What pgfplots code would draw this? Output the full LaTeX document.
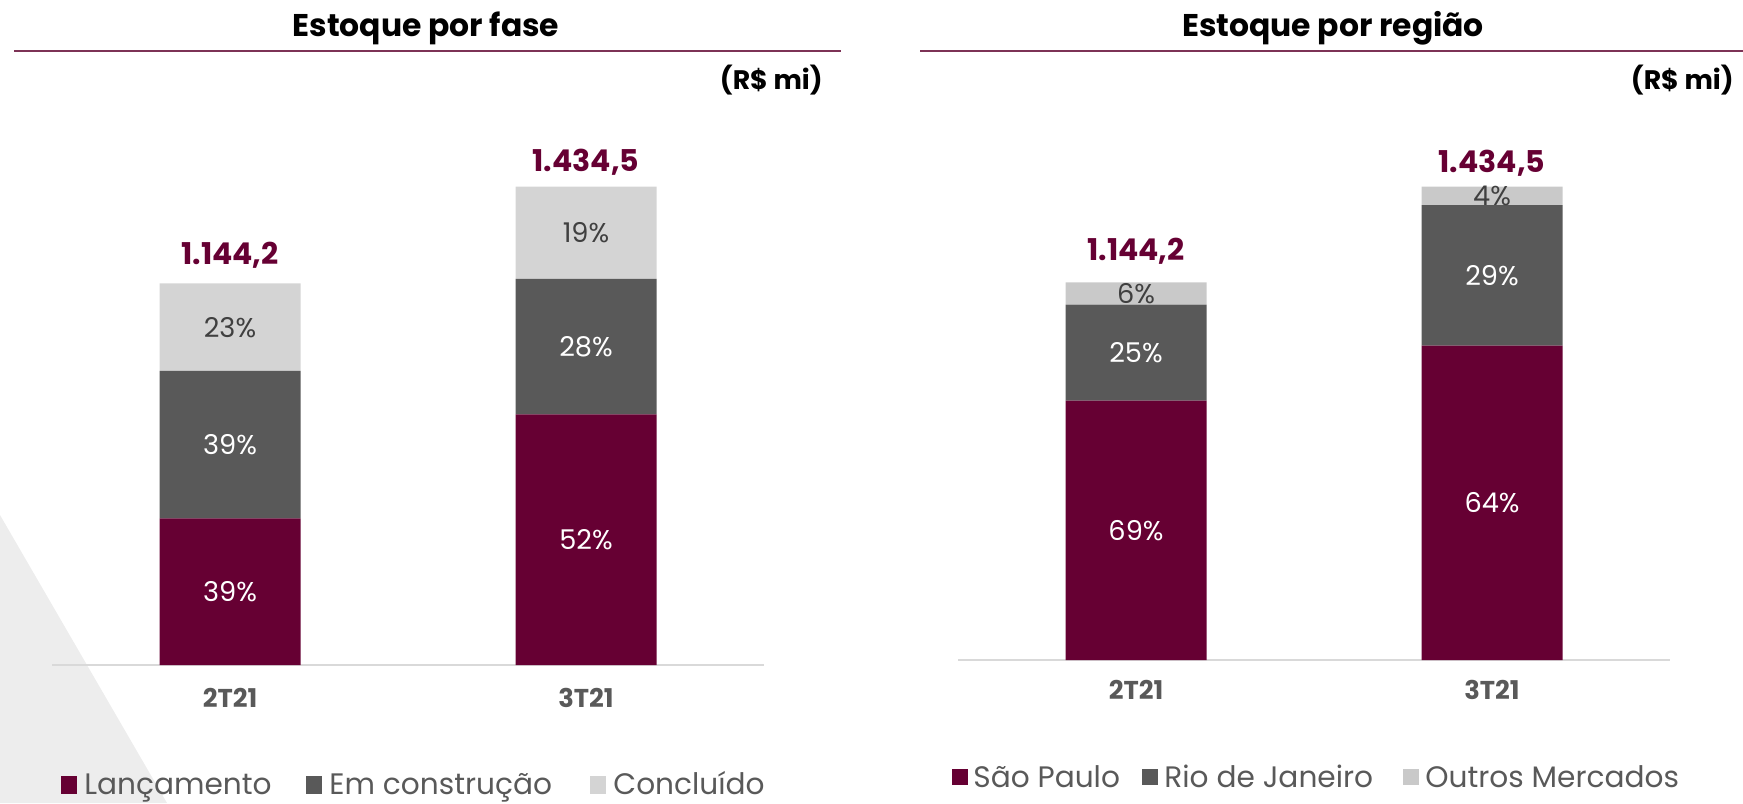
\documentclass[border=0pt]{standalone}
\usepackage{pgfplots}
\pgfplotsset{compat=1.18}
\usepackage{fontspec}
\setmainfont{Poppins}
\definecolor{maroon}{HTML}{660033}
\definecolor{dgray}{HTML}{595959}
\definecolor{lgray}{HTML}{D4D4D4}
\definecolor{lgrayb}{HTML}{C9C9C9}
\definecolor{linec}{HTML}{7D3356}
\definecolor{bgtri}{HTML}{EDEDED}
\definecolor{txtd}{HTML}{404040}
\definecolor{basec}{HTML}{D9D9D9}
\newcommand\fs[1]{\fontsize{#1}{#1}\selectfont}
\pgfplotsset{
  stk/.style={
    scale only axis, ybar stacked, bar width=70.5pt,
    xmin=-0.5, xmax=1.5, ymin=0, ymax=1600,
    axis y line=none, axis x line*=bottom,
    x axis line style={draw=basec, line width=1.2pt},
    xtick={0,1}, xticklabels={2T21,3T21}, major tick length=0pt,
    xtick style={draw=none}, ytick=\empty,
    xticklabel style={anchor=center, font=\bfseries\fs{12.9}, text=dgray},
    clip=false, anchor=south west,
  },
}
\tikzset{
  pct/.style={font=\fs{13.6}},
  tot/.style={font=\bfseries\fs{15}, text=maroon},
  leg/.style={anchor=base west, inner sep=0pt, font=\fs{14.8}, text=dgray},
}
\begin{document}
\begin{tikzpicture}[x=0.5pt,y=0.5pt]
\path[use as bounding box] (0,0) rectangle (1743,803);
\fill[bgtri] (0,288) -- (167,0) -- (0,0) -- cycle;

% titles
\node[anchor=base, font=\bfseries\fs{15.7}] at (426,766) {Estoque por fase};
\node[anchor=base, font=\bfseries\fs{15.7}] at (1333,766) {Estoque por região};
\draw[linec, line width=1pt] (14,752) -- (841,752);
\draw[linec, line width=1pt] (920,752) -- (1743,752);
\node[anchor=base east, inner sep=0pt, font=\bfseries\fs{13.4}] at (823,713) {(R\$ mi)};
\node[anchor=base east, inner sep=0pt, font=\bfseries\fs{13.4}] at (1734,713) {(R\$ mi)};

% left chart
\begin{axis}[stk, at={(26pt,69pt)}, width=356pt, height=266.75pt,
  xticklabel style={yshift=-16.5pt}]
\addplot[fill=maroon, draw=none] coordinates {(0,439.4) (1,751.9)};
\addplot[fill=dgray, draw=none] coordinates {(0,442.4) (1,405.8)};
\addplot[fill=lgray, draw=none] coordinates {(0,262.4) (1,276.8)};
\coordinate (L1a) at (axis cs:0,219.7);
\coordinate (L1b) at (axis cs:0,660.6);
\coordinate (L1c) at (axis cs:0,1013);
\coordinate (L2a) at (axis cs:1,376);
\coordinate (L2b) at (axis cs:1,954.8);
\coordinate (L2c) at (axis cs:1,1296.1);
\coordinate (LT1) at (axis cs:0,1144.2);
\coordinate (LT2) at (axis cs:1,1434.5);
\end{axis}
\node[pct, text=white] at (L1a) {39\%};
\node[pct, text=white] at (L1b) {39\%};
\node[pct, text=txtd] at (L1c) {23\%};
\node[pct, text=white] at (L2a) {52\%};
\node[pct, text=white] at (L2b) {28\%};
\node[pct, text=txtd] at (L2c) {19\%};
\node[tot, yshift=14.2pt] at (LT1) {1.144,2};
\node[tot, yshift=12.2pt] at (LT2) {1.434,5};

% right chart
\begin{axis}[stk, at={(479pt,71.5pt)}, width=356pt, height=264pt,
  xticklabel style={yshift=-15pt}]
\addplot[fill=maroon, draw=none] coordinates {(0,786.0) (1,952.5)};
\addplot[fill=dgray, draw=none] coordinates {(0,290.6) (1,425.9)};
\addplot[fill=lgrayb, draw=none] coordinates {(0,67.6) (1,56.1)};
\coordinate (R1a) at (axis cs:0,393);
\coordinate (R1b) at (axis cs:0,931.3);
\coordinate (R1c) at (axis cs:0,1110.4);
\coordinate (R2a) at (axis cs:1,476.3);
\coordinate (R2b) at (axis cs:1,1165.5);
\coordinate (R2c) at (axis cs:1,1406.5);
\coordinate (RT1) at (axis cs:0,1144.2);
\coordinate (RT2) at (axis cs:1,1434.5);
\end{axis}
\node[pct, text=white] at (R1a) {69\%};
\node[pct, text=white] at (R1b) {25\%};
\node[pct, text=txtd] at (R1c) {6\%};
\node[pct, text=white] at (R2a) {64\%};
\node[pct, text=white] at (R2b) {29\%};
\node[pct, text=txtd] at (R2c) {4\%};
\node[tot, yshift=15.6pt] at (RT1) {1.144,2};
\node[tot, yshift=11.7pt] at (RT2) {1.434,5};

% legends
\fill[maroon] (61,9) rectangle (77,27);
\node[leg] at (84,9) {Lançamento};
\fill[dgray] (306,9) rectangle (322,27);
\node[leg] at (329,9) {Em construção};
\fill[lgray] (590,9) rectangle (606,27);
\node[leg] at (613,9) {Concluído};

\fill[maroon] (952,18) rectangle (968,34);
\node[leg] at (973,16) {São Paulo};
\fill[dgray] (1142,18) rectangle (1158,34);
\node[leg] at (1164,16) {Rio de Janeiro};
\fill[lgrayb] (1403,18) rectangle (1419,34);
\node[leg] at (1425,16) {Outros Mercados};
\end{tikzpicture}
\end{document}
